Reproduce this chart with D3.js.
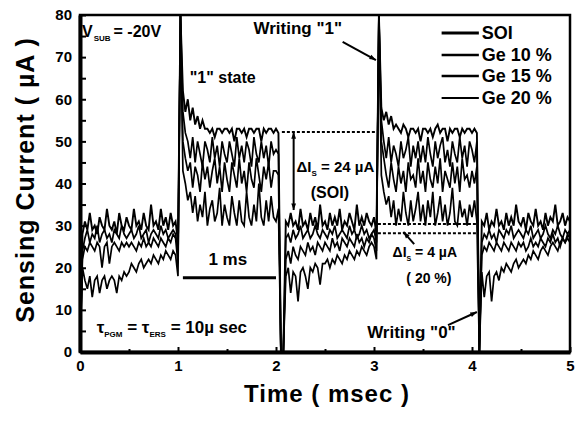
<!DOCTYPE html>
<html>
<head>
<meta charset="utf-8">
<script src="https://cdnjs.cloudflare.com/ajax/libs/d3/7.8.5/d3.min.js"></script>
<style>
	body { margin: 0; background: #fff; }
	svg { display: block; font-family: "Liberation Sans", Arial, sans-serif; font-weight: bold; }
</style>
</head>
<body>
<svg class="ivGraph" width="581" height="421"></svg>
<script>
// one sample every 25 us, 0 .. 5 ms (201 samples per trace)
var timeStep = 0.025;

var seriesNames = ["SOI", "Ge 10 %", "Ge 15 %", "Ge 20 %"];

var soiValues = [
	0, 28, 31, 29, 33, 29, 30, 28, 32, 30, 29, 34, 30, 29, 31, 28, 33, 30, 29, 32,
	30, 29, 34, 30, 31, 29, 33, 30, 29, 35, 30, 31, 29, 34, 30, 32, 29, 33, 30, 31,
	26, 80, 62, 57, 60, 55, 58, 54, 56, 53, 55, 53, 53, 52, 53, 51, 53, 53, 52, 53,
	53, 52, 53, 50, 53, 53, 52, 53, 51, 53, 53, 52, 53, 53, 50, 53, 52, 53, 53, 52,
	53, 52, 0, 0, 31, 30, 33, 30, 31, 29, 34, 30, 31, 29, 33, 30, 32, 29, 35, 30,
	31, 29, 33, 30, 32, 30, 34, 29, 31, 30, 33, 31, 29, 35, 30, 32, 30, 33, 31, 30,
	32, 28, 80, 58, 55, 57, 54, 56, 53, 54, 53, 52, 54, 53, 51, 53, 53, 52, 53, 50,
	53, 53, 52, 53, 51, 53, 54, 52, 53, 53, 50, 53, 52, 53, 53, 51, 53, 52, 53, 53,
	52, 53, 52, 0, 31, 30, 33, 29, 31, 30, 34, 30, 31, 29, 33, 30, 32, 30, 35, 31,
	30, 32, 29, 33, 31, 30, 34, 30, 31, 29, 33, 30, 32, 31, 35, 30, 31, 33, 30, 32,
	31
];

var ge10Values = [
	0, 24, 27, 29, 26, 28, 27, 30, 26, 28, 29, 27, 28, 26, 29, 28, 27, 30, 28, 27,
	28, 29, 27, 28, 30, 27, 28, 29, 26, 28, 29, 28, 27, 30, 28, 29, 27, 28, 29, 28,
	24, 80, 57, 52, 50, 46, 51, 45, 50, 47, 44, 50, 48, 45, 51, 46, 49, 44, 50, 47,
	45, 50, 47, 44, 51, 46, 49, 45, 50, 48, 44, 51, 47, 45, 50, 46, 49, 44, 50, 47,
	48, 47, 0, 0, 27, 28, 26, 29, 27, 28, 30, 27, 28, 29, 27, 28, 30, 28, 27, 29,
	28, 27, 29, 28, 30, 27, 28, 29, 28, 27, 30, 28, 29, 27, 28, 30, 28, 29, 27, 28,
	29, 26, 80, 55, 50, 46, 51, 45, 49, 47, 44, 50, 46, 48, 51, 44, 49, 46, 50, 45,
	49, 45, 51, 47, 44, 50, 46, 49, 51, 45, 48, 44, 50, 47, 45, 51, 46, 49, 44, 50,
	48, 45, 50, 0, 26, 28, 27, 29, 27, 28, 26, 29, 28, 27, 29, 28, 30, 27, 28, 29,
	28, 27, 29, 28, 30, 27, 28, 29, 27, 28, 30, 28, 27, 29, 28, 30, 28, 27, 29, 28,
	29
];

var ge15Values = [
	0, 22, 25, 24, 26, 25, 24, 26, 25, 20, 25, 26, 21, 25, 26, 25, 24, 26, 25, 26,
	25, 26, 25, 24, 26, 25, 27, 25, 26, 25, 27, 26, 25, 27, 26, 25, 27, 26, 28, 27,
	21, 80, 50, 46, 43, 45, 39, 44, 42, 38, 45, 41, 44, 39, 43, 46, 40, 44, 38, 45,
	41, 38, 45, 42, 39, 46, 40, 43, 38, 45, 41, 39, 46, 42, 38, 44, 41, 45, 39, 43,
	43, 42, 0, 0, 22, 24, 21, 25, 23, 22, 25, 24, 23, 26, 24, 25, 23, 26, 25, 24,
	26, 25, 24, 27, 25, 26, 24, 27, 26, 25, 27, 26, 25, 28, 26, 27, 25, 27, 26, 28,
	27, 24, 80, 50, 46, 42, 39, 45, 41, 38, 44, 40, 43, 38, 45, 41, 42, 39, 46, 40,
	43, 38, 45, 41, 39, 44, 40, 46, 38, 43, 41, 39, 45, 40, 44, 38, 46, 41, 42, 39,
	43, 40, 44, 0, 23, 25, 24, 26, 25, 24, 26, 25, 24, 26, 25, 24, 26, 25, 24, 26,
	25, 26, 24, 25, 27, 25, 26, 25, 27, 26, 25, 27, 26, 28, 26, 27, 25, 27, 26, 28,
	27
];

var ge20Values = [
	0, 20, 17, 15, 18, 13, 17, 18, 14, 17, 18, 15, 17, 18, 17, 14, 18, 17, 19, 18,
	19, 21, 20, 19, 21, 22, 20, 21, 22, 21, 23, 22, 21, 23, 22, 24, 23, 22, 24, 23,
	18, 80, 43, 40, 36, 38, 33, 37, 31, 35, 32, 38, 30, 34, 36, 31, 33, 39, 30, 35,
	32, 30, 37, 33, 30, 36, 31, 30, 38, 32, 30, 35, 31, 40, 32, 30, 36, 31, 37, 32,
	31, 34, 0, 0, 18, 20, 14, 19, 18, 12, 19, 20, 18, 15, 20, 19, 21, 20, 16, 21,
	21, 22, 20, 22, 21, 23, 22, 21, 23, 22, 24, 23, 22, 24, 23, 25, 24, 23, 25, 26,
	25, 22, 80, 42, 38, 35, 37, 32, 36, 30, 34, 31, 38, 33, 30, 36, 31, 34, 38, 31,
	35, 30, 36, 32, 38, 30, 33, 37, 31, 35, 30, 33, 39, 31, 30, 36, 32, 34, 30, 35,
	32, 36, 31, 0, 19, 13, 18, 19, 12, 18, 19, 17, 20, 19, 21, 20, 19, 21, 22, 20,
	21, 22, 21, 23, 22, 24, 23, 22, 24, 25, 24, 23, 25, 26, 25, 24, 26, 27, 26, 27,
	26
];

var xTickValues = [0, 1, 2, 3, 4, 5];
var xMinorTicks = [0.5, 1.5, 2.5, 3.5, 4.5];
var yTickValues = [0, 5, 10, 15, 20, 25, 30, 35, 40, 45, 50, 55, 60, 65, 70, 75, 80];

var chart = {
	svg:		null,
	margin:		null,
	width:		null,
	height:		null,
	xScale:		null,
	yScale:		null,
	group:		null,
	series:		null,

	setup: function() {
		console.log("D3 Version " + d3.version);
		this.svg = d3.select(".ivGraph");
		this.margin = {top: 15, right: 11, bottom: 69, left: 80};
		this.width = +this.svg.attr("width") - this.margin.left - this.margin.right;
		this.height = +this.svg.attr("height") - this.margin.top - this.margin.bottom;

		this.xScale = d3.scaleLinear()
			.domain([0, 5])
			.range([0, this.width]);

		this.yScale = d3.scaleLinear()
			.domain([0, 80])
			.range([this.height, 0]);

		this.series = [
			{name: seriesNames[0], values: soiValues,  width: 1.9, legendWidth: 3},
			{name: seriesNames[1], values: ge10Values, width: 1.7, legendWidth: 2.5},
			{name: seriesNames[2], values: ge15Values, width: 1.7, legendWidth: 2.5},
			{name: seriesNames[3], values: ge20Values, width: 1.7, legendWidth: 2}
		];
	},

	arrow: function(g, x1, y1, x2, y2, both) {
		var head = function(ax, ay, bx, by) {
			var a = Math.atan2(by - ay, bx - ax), s = 7;
			var p = [[bx, by],
				[bx - s * Math.cos(a - 0.35), by - s * Math.sin(a - 0.35)],
				[bx - s * Math.cos(a + 0.35), by - s * Math.sin(a + 0.35)]];
			g.append("path").attr("d", "M" + p.join("L") + "Z").attr("fill", "#000");
		};
		g.append("line")
			.attr("x1", x1).attr("y1", y1).attr("x2", x2).attr("y2", y2)
			.attr("stroke", "#000").attr("stroke-width", 2);
		head(x1, y1, x2, y2);
		if (both) { head(x2, y2, x1, y1); }
	},

	draw: function() {
		var x = this.xScale, y = this.yScale;
		this.group = this.svg.append("g").attr("transform", "translate(" + this.margin.left + "," + this.margin.top + ")");
		var g = this.group;

		var line = d3.line()
			.x(function(d, i) { return x(i * timeStep); })
			.y(function(d) { return y(d); });

		// traces, Ge 20 % first so SOI ends on top
		g.selectAll(".trace")
			.data(this.series.slice().reverse())
			.enter().append("path")
			.attr("class", "trace")
			.attr("fill", "none")
			.attr("stroke", "#000")
			.attr("stroke-width", function(d) { return d.width; })
			.attr("d", function(d) { return line(d.values); });

		// frame
		g.append("rect")
			.attr("width", this.width)
			.attr("height", this.height)
			.attr("fill", "none")
			.attr("stroke", "#000")
			.attr("stroke-width", 2.5);

		g.append("g")
			.attr("class", "axis yAxis")
			.call(d3.axisLeft(y).tickValues(yTickValues).tickSizeInner(-6).tickSizeOuter(0).tickPadding(8)
				.tickFormat(function(d) { return d % 10 === 0 ? d : ""; }));

		g.append("g")
			.attr("class", "axis xAxis")
			.attr("transform", "translate(0," + this.height + ")")
			.call(d3.axisBottom(x).tickValues(xTickValues).tickSizeInner(-5).tickSizeOuter(0).tickPadding(8)
				.tickFormat(d3.format("d")));

		g.append("g")
			.attr("transform", "translate(0," + this.height + ")")
			.call(d3.axisBottom(x).tickValues(xMinorTicks).tickSizeInner(-3).tickSizeOuter(0).tickFormat(""))
			.call(function(s) { s.select(".domain").remove(); });

		g.selectAll(".axis .domain").attr("stroke-width", 4);
		g.selectAll(".tick line").attr("stroke-width", 2);
		g.selectAll(".axis text")
			.attr("font-family", "'Liberation Sans', Arial, sans-serif")
			.attr("font-weight", "bold")
			.attr("font-size", 15)
			.attr("fill", "#000");

		// axis titles
		this.svg.append("text")
			.attr("transform", "translate(34,180) rotate(-90)")
			.attr("text-anchor", "middle")
			.attr("font-size", 25)
			.attr("letter-spacing", 1)
			.text("Sensing Current ( \u00b5A )");

		this.svg.append("text")
			.attr("x", 327)
			.attr("y", 402)
			.attr("text-anchor", "middle")
			.attr("font-size", 24)
			.attr("letter-spacing", 1)
			.text("Time ( msec )");

		// legend
		var legend = g.selectAll(".legend")
			.data(this.series)
			.enter().append("g")
			.attr("class", "legend");
		var legendY = [75.7, 70.5, 65.5, 60.3];
		legend.append("line")
			.attr("x1", x(3.69)).attr("x2", x(4.07))
			.attr("y1", function(d, i) { return y(legendY[i]); })
			.attr("y2", function(d, i) { return y(legendY[i]); })
			.attr("stroke", "#000")
			.attr("stroke-width", function(d) { return d.legendWidth; });
		legend.append("text")
			.attr("x", x(4.1))
			.attr("y", function(d, i) { return y(legendY[i]) + 6; })
			.attr("font-size", 18)
			.text(function(d) { return d.name; });

		// V_SUB label
		var vs = g.append("text").attr("x", x(0.02)).attr("y", y(74.8)).attr("font-size", 16);
		vs.append("tspan").text("V");
		vs.append("tspan").attr("font-size", 8).attr("dy", 4).attr("dx", 1).text("SUB");
		vs.append("tspan").attr("dy", -4).attr("dx", 3).text("= -20V");

		g.append("text").attr("x", x(1.12)).attr("y", y(63.9)).attr("font-size", 16).text("\"1\" state");

		g.append("text").attr("x", x(1.77)).attr("y", y(75.5)).attr("font-size", 17).text("Writing \"1\"");
		this.arrow(g, x(2.68), y(73.6), x(3.02), y(69.3), false);

		// delta I (SOI)
		g.append("line")
			.attr("x1", x(2.06)).attr("x2", x(3.02))
			.attr("y1", y(52.2)).attr("y2", y(52.2))
			.attr("stroke", "#000").attr("stroke-width", 2).attr("stroke-dasharray", "3,2");
		this.arrow(g, x(2.18), y(52.2), x(2.18), y(33.7), true);
		var d1 = g.append("text").attr("x", x(2.21)).attr("y", y(42.7)).attr("font-size", 15);
		d1.append("tspan").text("\u0394I");
		d1.append("tspan").attr("font-size", 8).attr("dy", 4).text("S");
		d1.append("tspan").attr("dy", -4).text(" = 24 \u00b5A");
		g.append("text").attr("x", x(2.55)).attr("y", y(36.6)).attr("text-anchor", "middle").attr("font-size", 16).text("(SOI)");

		// delta I (20 %)
		[30.4, 28.2].forEach(function(v) {
			g.append("line")
				.attr("x1", x(3.04)).attr("x2", x(4.04))
				.attr("y1", y(v)).attr("y2", y(v))
				.attr("stroke", "#000").attr("stroke-width", 2).attr("stroke-dasharray", "3,2");
		});
		this.arrow(g, x(3.41), y(25.6), x(3.30), y(28.5), false);
		var d2 = g.append("text").attr("x", x(3.19)).attr("y", y(22.6)).attr("font-size", 14);
		d2.append("tspan").text("\u0394I");
		d2.append("tspan").attr("font-size", 7).attr("dy", 4).text("S");
		d2.append("tspan").attr("dy", -4).text(" = 4 \u00b5A");
		g.append("text").attr("x", x(3.33)).attr("y", y(16.4)).attr("font-size", 14).text("( 20 %)");

		// 1 ms scale bar
		g.append("line")
			.attr("x1", x(1.05)).attr("x2", x(2.0))
			.attr("y1", y(17.6)).attr("y2", y(17.6))
			.attr("stroke", "#000").attr("stroke-width", 3);
		g.append("text").attr("x", x(1.31)).attr("y", y(20.7)).attr("font-size", 17).text("1 ms");

		// pulse widths
		var tau = g.append("text").attr("x", x(0.17)).attr("y", y(4.5)).attr("font-size", 17);
		tau.append("tspan").text("\u03c4");
		tau.append("tspan").attr("font-size", 8).attr("dy", 4).text("PGM");
		tau.append("tspan").attr("dy", -4).text(" = \u03c4");
		tau.append("tspan").attr("font-size", 8).attr("dy", 4).text("ERS");
		tau.append("tspan").attr("dy", -4).text(" = 10\u00b5 sec");

		g.append("text").attr("x", x(2.93)).attr("y", y(3.3)).attr("font-size", 17).text("Writing \"0\"");
		this.arrow(g, x(3.755), y(6.4), x(4.05), y(9.5), false);
	}
};

chart.setup();
chart.draw();
console.log("Finished drawing");
</script>
</body>
</html>
